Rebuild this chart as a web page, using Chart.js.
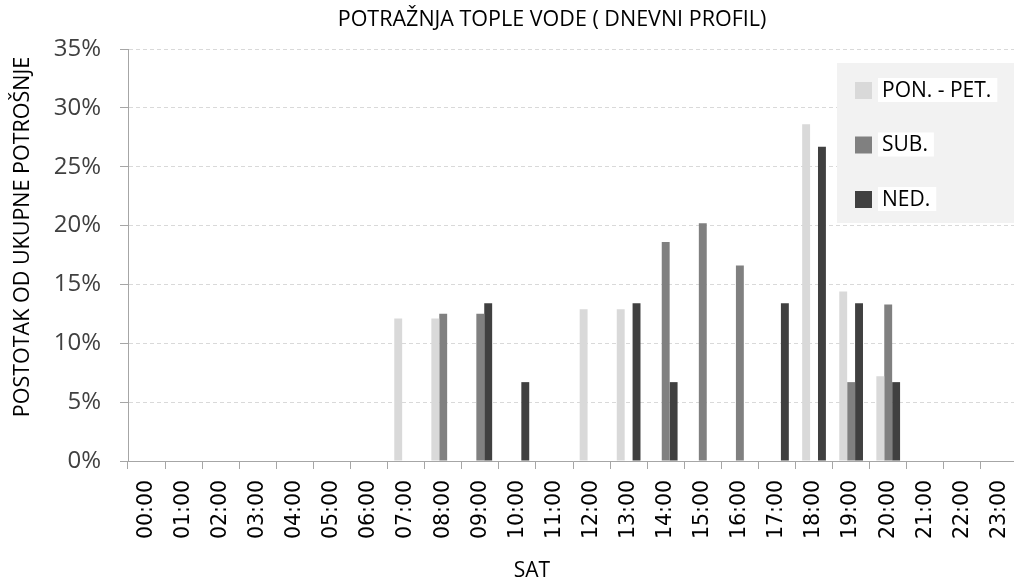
<!DOCTYPE html>
<html>
<head>
<meta charset="utf-8">
<script src="https://cdn.jsdelivr.net/npm/chart.js@4/dist/chart.umd.min.js"></script>
<style>
  html, body { margin: 0; padding: 0; background: #fff; overflow: hidden; }
  #wrap { width: 1014px; height: 583px; overflow: hidden; }
</style>
</head>
<body>
<div id="wrap"><canvas id="graficoVoda" width="1018" height="583"></canvas></div>
<script>
// Podaci (postotak od ukupne potrošnje po satu)
var sati = ['00:00','01:00','02:00','03:00','04:00','05:00','06:00','07:00','08:00','09:00','10:00','11:00',
            '12:00','13:00','14:00','15:00','16:00','17:00','18:00','19:00','20:00','21:00','22:00','23:00'];
var ponPet = [0,0,0,0,0,0,0,12.1,12.1,0,0,0,12.9,12.9,0,0,0,0,28.6,14.4,7.2,0,0,0];
var sub    = [0,0,0,0,0,0,0,0,12.5,12.5,0,0,0,0,18.6,20.2,16.6,0,0,6.7,13.3,0,0,0];
var ned    = [0,0,0,0,0,0,0,0,0,13.4,6.7,0,0,13.4,6.7,0,0,13.4,26.7,13.4,6.7,0,0,0];
var yTicks = [0,5,10,15,20,25,30,35];

var boje = ['#d9d9d9', '#808080', '#404040'];
var font = '"Open Sans", sans-serif';

// naslovi i legenda u sivom okviru
var okvirPlugin = {
    id: 'okvir',
    afterDraw: function(chart) {
        var ctx = chart.ctx;
        ctx.save();
        ctx.fillStyle = '#000';
        ctx.textAlign = 'center';
        ctx.textBaseline = 'middle';
        ctx.font = '21.5px ' + font;
        ctx.fillText('POTRAŽNJA TOPLE VODE ( DNEVNI PROFIL)', 552, 20);
        ctx.font = '21px ' + font;
        ctx.fillText('SAT', 532, 571);
        ctx.save();
        ctx.translate(23, 237);
        ctx.rotate(-Math.PI / 2);
        ctx.font = '21.5px ' + font;
        ctx.fillText('POSTOTAK OD UKUPNE POTROŠNJE', 0, 0);
        ctx.restore();

        ctx.fillStyle = '#f2f2f2';
        ctx.fillRect(837, 63, 181, 160);
        ctx.textAlign = 'left';
        chart.data.datasets.forEach(function(ds, i) {
            var y = 90 + i * 54.5;
            ctx.fillStyle = ds.backgroundColor;
            ctx.fillRect(855, y - 8, 17, 17);
            ctx.font = '21px ' + font;
            var w = ctx.measureText(ds.label).width;
            ctx.fillStyle = '#ffffff';
            ctx.fillRect(878, y - 12, w + 10, 24);
            ctx.fillStyle = '#000000';
            ctx.fillText(ds.label, 882, y + 1);
        });
        ctx.restore();
    }
};

var ctx = document.getElementById('graficoVoda').getContext('2d');
var grafico = new Chart(ctx, {
    type: 'bar',
    data: {
        labels: sati,
        datasets: [
            { label: 'PON. - PET.', data: ponPet, backgroundColor: boje[0] },
            { label: 'SUB.', data: sub, backgroundColor: boje[1] },
            { label: 'NED.', data: ned, backgroundColor: boje[2] }
        ]
    },
    options: {
        responsive: false,
        animation: false,
        layout: { padding: { top: 49, right: 0, left: 0, bottom: 0 } },
        datasets: {
            bar: { barPercentage: 1, categoryPercentage: 0.64 }
        },
        plugins: {
            legend: { display: false },
            tooltip: { enabled: false },
            title: { display: false }
        },
        scales: {
            x: {
                grid: { drawOnChartArea: false, drawTicks: true, tickLength: 8, tickColor: '#a6a6a6' },
                border: { color: '#a6a6a6', width: 1 },
                ticks: {
                    color: '#000',
                    minRotation: 90, maxRotation: 90,
                    autoSkip: false,
                    padding: 11,
                    font: { family: '"DejaVu Sans", sans-serif', size: 20.5 }
                },
                afterFit: function(scale) {
                    scale.height = 122;
                    scale.paddingLeft = 0;
                    scale.paddingRight = 0;
                }
            },
            y: {
                min: 0, max: 35,
                afterBuildTicks: function(scale) {
                    scale.ticks = yTicks.map(function(v) { return { value: v }; });
                },
                grid: { color: '#d9d9d9', tickColor: '#a6a6a6', tickLength: 8, tickBorderDash: [] },
                border: { color: '#a6a6a6', width: 1, dash: [4, 3] },
                ticks: {
                    color: '#404040',
                    padding: 19,
                    font: { family: font, size: 24 },
                    callback: function(v) { return v + '%'; }
                },
                afterFit: function(scale) { scale.width = 128; }
            }
        }
    },
    plugins: [okvirPlugin]
});
</script>
</body>
</html>
